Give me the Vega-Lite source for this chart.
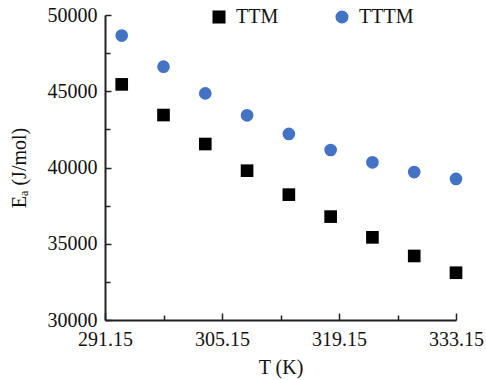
{
  "$schema": "https://vega.github.io/schema/vega-lite/v6.json",
  "width": 351,
  "height": 305,
  "autosize": {"type": "none"},
  "padding": {"left": 105, "top": 15, "right": 30, "bottom": 60},
  "background": "white",
  "config": {
    "view": {"stroke": null},
    "font": "Liberation Serif",
    "axis": {"grid": false, "domainColor": "#222222", "domainWidth": 2, "tickColor": "#222222", "tickWidth": 1.5,
             "labelFont": "Liberation Serif", "labelFontSize": 20, "labelColor": "#111111",
             "titleFont": "Liberation Serif", "titleFontSize": 20, "titleFontWeight": "normal", "titleColor": "#111111"}
  },
  "data": {"values": [
    {"T": 293.15, "Ea": 45450, "s": "TTM"},
    {"T": 298.15, "Ea": 43440, "s": "TTM"},
    {"T": 303.15, "Ea": 41540, "s": "TTM"},
    {"T": 308.15, "Ea": 39790, "s": "TTM"},
    {"T": 313.15, "Ea": 38220, "s": "TTM"},
    {"T": 318.15, "Ea": 36780, "s": "TTM"},
    {"T": 323.15, "Ea": 35420, "s": "TTM"},
    {"T": 328.15, "Ea": 34200, "s": "TTM"},
    {"T": 333.15, "Ea": 33100, "s": "TTM"},
    {"T": 293.15, "Ea": 48650, "s": "TTTM"},
    {"T": 298.15, "Ea": 46610, "s": "TTTM"},
    {"T": 303.15, "Ea": 44860, "s": "TTTM"},
    {"T": 308.15, "Ea": 43420, "s": "TTTM"},
    {"T": 313.15, "Ea": 42200, "s": "TTTM"},
    {"T": 318.15, "Ea": 41150, "s": "TTTM"},
    {"T": 323.15, "Ea": 40340, "s": "TTTM"},
    {"T": 328.15, "Ea": 39700, "s": "TTTM"},
    {"T": 333.15, "Ea": 39250, "s": "TTTM"}
  ]},
  "layer": [
    {
      "mark": {"type": "point", "filled": true, "opacity": 1, "size": 160},
      "encoding": {
        "x": {"field": "T", "type": "quantitative",
              "scale": {"domain": [291.15, 333.15], "nice": false, "zero": false},
              "axis": {"values": [291.15, 305.15, 319.15, 333.15], "format": ".2f", "tickSize": -7, "labelPadding": 16,
                       "title": "T (K)", "titlePadding": 8, "labelFlush": false}},
        "y": {"field": "Ea", "type": "quantitative",
              "scale": {"domain": [30000, 50000], "nice": false, "zero": false},
              "axis": {"values": [30000, 35000, 40000, 45000, 50000], "format": "d", "tickSize": -6, "labelPadding": 14,
                       "title": "Eₐ (J/mol)", "titlePadding": 18, "labelFlush": false}},
        "shape": {"field": "s", "type": "nominal", "scale": {"domain": ["TTM", "TTTM"], "range": ["square", "circle"]},
                  "legend": {"title": null, "orient": "none", "legendX": 104, "legendY": -8, "direction": "horizontal",
                             "labelFontSize": 20, "labelFont": "Liberation Serif", "labelColor": "#111111", "symbolSize": 170,
                             "columnPadding": 53, "labelOffset": 7}},
        "color": {"field": "s", "type": "nominal", "scale": {"domain": ["TTM", "TTTM"], "range": ["#000000", "#4472C4"]}}
      }
    },
    {
      "mark": {"type": "point", "opacity": 0},
      "encoding": {
        "x": {"field": "T", "type": "quantitative",
              "axis": {"orient": "bottom", "values": [298.15, 312.15, 326.15], "tickSize": -5, "labels": false, "domain": false, "title": null}},
        "y": {"field": "Ea", "type": "quantitative",
              "axis": {"orient": "left", "values": [32500, 37500, 42500, 47500], "tickSize": -5, "labels": false, "domain": false, "title": null}}
      }
    }
  ],
  "resolve": {"axis": {"x": "independent", "y": "independent"}}
}
